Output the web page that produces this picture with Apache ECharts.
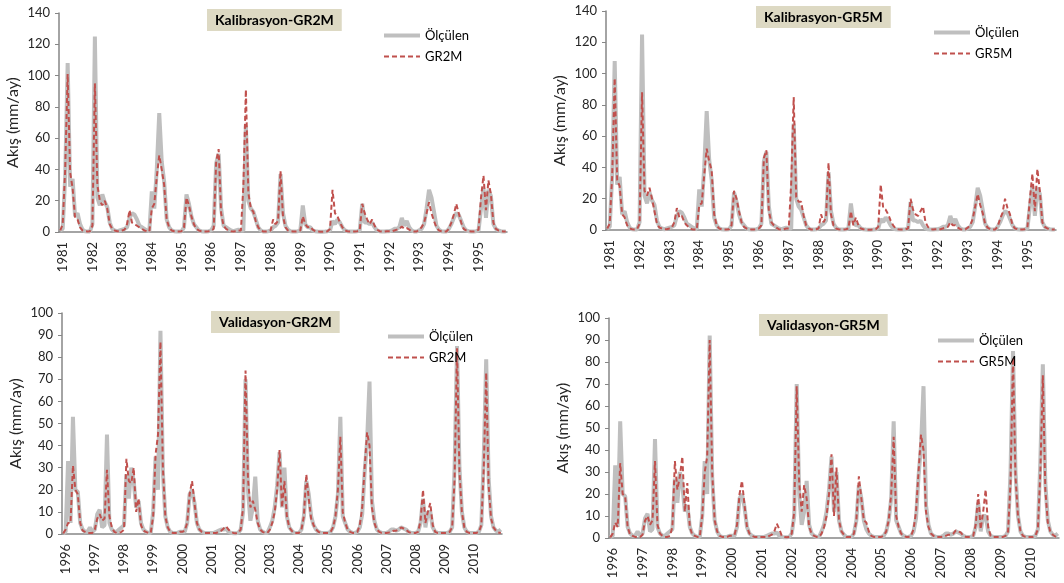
<!DOCTYPE html>
<html>
<head>
<meta charset="utf-8">
<script src="https://cdn.jsdelivr.net/npm/echarts@6/dist/echarts.min.js"></script>
<style>
html,body{margin:0;padding:0;background:#fff;}
#c{width:1064px;height:583px;}
</style>
</head>
<body>
<div id="c"></div>
<script>
// ---- Data ----
const calYears = [1981,1982,1983,1984,1985,1986,1987,1988,1989,1990,1991,1992,1993,1994,1995];
const valYears = [1996,1997,1998,1999,2000,2001,2002,2003,2004,2005,2006,2007,2008,2009,2010];
const monthCodes = ['01','02','03','04','05','06','07','08','09','10','11','12'];

// Observed flow, calibration period (mm/month). First value = Dec of previous year, then Jan..Dec per line
const calObs = [
  1,
  2, 35, 108, 29, 34, 10, 12, 5, 1.5, 0.5, 0.3, 0.3,
  5, 125, 22, 17, 24, 19, 16, 6, 2, 1, 0.5, 1,
  1.5, 2, 3, 9, 12, 11, 8, 4, 3, 2, 1, 0.5,
  26, 15, 40, 76, 45, 32, 8, 3, 1, 0.5, 0.3, 0.3,
  0.5, 3, 24, 18, 10, 5, 3, 1, 0.5, 0.3, 0.3, 0.5,
  1, 4, 44, 50, 15, 4, 3, 2, 1, 0.5, 1, 1.5,
  1, 1, 68, 20, 15, 13, 8, 3, 1, 0.3, 0.3, 0.5,
  1, 3, 4, 6, 37, 12, 4, 1.5, 0.5, 0.3, 0.3, 0.5,
  1, 17, 5, 3, 3, 1, 0.5, 0.3, 0.2, 0.2, 0.3, 0.5,
  1, 7, 5, 8, 6, 3, 1, 0.5, 0.3, 0.3, 0.3, 0.5,
  1, 18, 6, 6, 5, 6, 3, 1, 0.5, 0.3, 0.3, 0.5,
  0.5, 1, 2, 2, 3, 9, 4, 7, 3, 1, 0.3, 0.3,
  1, 2, 5, 15, 27, 22, 13, 4, 1.5, 0.5, 0.3, 0.3,
  2, 5, 9, 12, 11, 7, 3, 1, 0.5, 0.3, 0.3, 0.5,
  1, 15, 28, 9, 27, 23, 5, 2, 1, 0.5, 0.3, 0.3
];
// GR2M simulated flow, calibration
const calGR2M = [
  1,
  5, 40, 101, 38, 28, 9, 8, 3, 1, 0.5, 0.3, 0.5,
  4, 95, 30, 20, 17, 20, 15, 5, 2, 1, 0.5, 0.5,
  1, 1.5, 5, 14, 6, 5, 4, 3, 2, 1, 0.5, 0.3,
  15, 18, 35, 49, 40, 30, 8, 3, 1, 0.5, 0.3, 0.3,
  0.5, 3, 22, 17, 10, 5, 2, 1, 0.5, 0.3, 0.3, 0.5,
  1, 2, 45, 53, 12, 4, 2, 1, 0.5, 0.3, 0.5, 1,
  1, 30, 91, 25, 15, 13, 7, 3, 1, 0.3, 0.3, 0.5,
  1, 8, 5, 7, 39, 10, 3, 1, 0.5, 0.3, 0.3, 0.5,
  1, 10, 5, 3, 3.5, 1.5, 0.5, 0.3, 0.2, 0.2, 0.3, 0.5,
  2, 27, 12, 10, 6, 3, 1, 0.5, 0.3, 0.3, 0.3, 0.5,
  1, 18, 12, 8, 5, 8, 4, 1.5, 0.5, 0.3, 0.3, 0.5,
  0.5, 0.5, 1, 1.5, 2, 3.5, 2, 2.5, 1.5, 0.5, 0.3, 0.3,
  1.5, 3, 6, 12, 19, 12, 7, 3, 1, 0.5, 0.3, 0.3,
  2, 6, 11, 18, 12, 6, 2, 1, 0.5, 0.3, 0.3, 0.5,
  1.5, 22, 36, 14, 33, 24, 6, 2, 1, 0.5, 0.3, 0.3
];
// GR5M simulated flow, calibration
const calGR5M = [
  1,
  4, 35, 97, 32, 28, 10, 8, 3, 1, 0.5, 0.3, 0.5,
  4, 88, 25, 22, 27, 20, 12, 4, 1.5, 1, 0.5, 0.5,
  1, 1.5, 5, 14, 8, 9, 5, 3, 1.5, 0.5, 0.3, 0.3,
  16, 17, 35, 52, 44, 38, 10, 3, 1, 0.5, 0.3, 0.3,
  0.5, 3, 25, 20, 12, 5, 2, 1, 0.5, 0.3, 0.3, 0.5,
  1, 3, 46, 51, 12, 5, 3, 1.5, 0.5, 0.3, 0.5, 1,
  1, 30, 85, 21, 18, 18, 9, 3, 1, 0.3, 0.3, 0.5,
  1, 10, 5, 8, 43, 10, 3, 1, 0.5, 0.3, 0.3, 0.5,
  1, 12, 3, 8, 3, 1, 0.5, 0.3, 0.2, 0.2, 0.3, 0.5,
  2, 29, 14, 13, 10, 6, 3, 1, 0.5, 0.3, 0.3, 0.5,
  1, 20, 13, 10, 9, 12, 15, 5, 2, 0.5, 0.3, 0.5,
  0.5, 0.5, 1, 1.5, 2, 5, 3, 3, 1.5, 0.5, 0.3, 0.3,
  1.5, 3, 7, 15, 23, 16, 11, 4, 1.5, 0.5, 0.3, 0.3,
  2, 7, 11, 20, 14, 10, 3, 1, 0.5, 0.3, 0.3, 0.5,
  1.5, 20, 36, 12, 39, 25, 5, 2, 1, 0.5, 0.3, 0.3
];
// Observed flow, validation period
const valObs = [
  0.3,
  1, 33, 5, 53, 20, 19, 5, 2, 1, 1, 3, 1,
  2, 9, 11, 3, 4, 45, 5, 2, 1, 1, 2, 3,
  4, 27, 16, 30, 24, 12, 15, 5, 2, 1, 0.5, 0.5,
  10, 35, 20, 92, 28, 8, 3, 1, 0.5, 0.5, 0.5, 1,
  1, 1, 5, 18, 20, 14, 5, 2, 1, 0.5, 0.5, 0.5,
  0.5, 0.5, 1, 1.5, 2, 2, 2.5, 1, 0.5, 0.3, 0.3, 0.5,
  2, 10, 70, 20, 6, 12, 26, 6, 2, 1, 0.5, 0.5,
  3, 6, 12, 22, 37, 12, 30, 8, 3, 1.5, 0.5, 0.5,
  0.5, 2, 8, 24, 18, 8, 4, 2, 1, 0.5, 0.5, 0.5,
  0.5, 1, 3, 8, 18, 53, 8, 5, 2, 1, 0.5, 0.5,
  1, 3, 9, 28, 42, 69, 15, 6, 2, 1, 0.5, 0.5,
  0.5, 1, 2, 2, 1.5, 2, 3, 2.5, 2, 1, 0.5, 0.5,
  0.5, 1, 5, 16, 3, 10, 10, 3, 1, 0.5, 0.5, 0.5,
  0.5, 0.5, 1, 3, 30, 85, 30, 10, 3, 1, 0.5, 0.5,
  0.5, 0.5, 1, 4, 35, 79, 25, 8, 3, 1.5, 1, 2
];
// GR2M simulated flow, validation
const valGR2M = [
  0.3,
  2, 5, 5, 31, 20, 18, 5, 1.5, 1, 0.5, 0.5, 0.5,
  2, 7, 9, 6, 7, 29, 8, 3, 1, 0.5, 0.5, 1,
  2, 34, 24, 23, 30, 10, 16, 4, 1.5, 1, 0.5, 0.5,
  8, 36, 45, 87, 30, 8, 3, 1, 0.5, 0.5, 0.5, 1,
  1, 1.5, 5, 18, 24, 14, 5, 2, 1, 0.5, 0.5, 0.5,
  0.5, 0.5, 0.5, 1, 1.5, 2.5, 3.5, 2, 1, 0.5, 0.3, 0.5,
  2, 12, 74, 25, 12, 15, 11, 5, 2, 1, 0.5, 0.5,
  2, 5, 10, 20, 38, 12, 24, 8, 3, 1.5, 0.5, 0.5,
  0.5, 2, 8, 27, 16, 7, 4, 2, 1, 0.5, 0.5, 0.5,
  0.5, 1, 3, 8, 20, 44, 10, 5, 2, 1, 0.5, 0.5,
  1, 4, 12, 30, 46, 40, 12, 5, 2, 1, 0.5, 0.5,
  0.5, 0.7, 1, 1.5, 1.5, 2, 3, 2.5, 2, 1, 0.5, 0.5,
  0.5, 1, 6, 20, 5, 10, 14, 4, 1, 0.5, 0.5, 0.5,
  0.5, 0.5, 1, 3, 25, 84, 28, 10, 3, 1, 0.5, 0.5,
  0.5, 0.5, 1, 4, 30, 73, 22, 7, 3, 1.5, 0.7, 0.5
];
// GR5M simulated flow, validation
const valGR5M = [
  0.3,
  2, 7, 5, 34, 20, 19, 5, 1.5, 1, 0.5, 0.5, 0.5,
  1.5, 8, 10, 6, 8, 35, 6, 2, 1, 0.5, 0.5, 1,
  5, 35, 22, 28, 37, 12, 25, 5, 1.5, 1, 0.5, 0.5,
  10, 30, 37, 90, 30, 8, 3, 1, 0.5, 0.5, 0.5, 1,
  1, 1.5, 6, 20, 26, 15, 5, 2, 1, 0.5, 0.5, 0.5,
  0.5, 0.5, 0.5, 1, 1.5, 3, 6.5, 4, 1, 0.5, 0.3, 0.5,
  2, 12, 69, 25, 12, 24, 18, 5, 2, 1, 0.5, 0.5,
  2, 5, 10, 20, 38, 10, 32, 8, 3, 1.5, 0.5, 0.5,
  0.5, 2, 8, 28, 18, 8, 7, 3, 1, 0.5, 0.5, 0.5,
  0.5, 1, 3, 8, 20, 46, 10, 5, 2, 1, 0.5, 0.5,
  1, 4, 12, 30, 47, 40, 12, 5, 2, 1, 0.5, 0.5,
  0.5, 0.7, 1, 1.5, 1.5, 2, 3.5, 3, 2.5, 1, 0.5, 0.5,
  0.5, 1, 6, 20, 4, 12, 22, 5, 1, 0.5, 0.5, 0.5,
  0.5, 0.5, 1, 3, 25, 82, 28, 10, 3, 1, 0.5, 0.5,
  0.5, 0.5, 1, 4, 30, 74, 22, 7, 3, 1.5, 0.7, 0.5
];

const titles = ['Kalibrasyon-GR2M','Kalibrasyon-GR5M','Validasyon-GR2M','Validasyon-GR5M'];
const obsName = 'Ölçülen';
const yName = 'Akış (mm/ay)';

// ---- Build ----
const makeCats = years => [(years[0] - 1) + '-12'].concat(years.flatMap(y => monthCodes.map(m => y + '-' + m)));
const calCats = makeCats(calYears);
const valCats = makeCats(valYears);

const FONT = 'Lato, "Open Sans", "Liberation Sans", sans-serif';
const axisColor = '#868686';
const textColor = '#262626';
const obsColor = '#bfbfbf';
const simColor = '#c0504d';

const obsIcon = 'path://M0,0H36V4H0Z';
const simIcon = 'path://M0,0H5V2H0Z M8,0H13V2H8Z M16,0H21V2H16Z M24,0H29V2H24Z M32,0H36V2H32Z';

const panels = [
  {grid:{left:59, top:13, width:448, height:219}, cats:calCats, obs:calObs, sim:calGR2M, simName:'GR2M', max:140, interval:20,
   title:{left:207, top:9}, legend:{left:379, top:24}},
  {grid:{left:606, top:11, width:450, height:219}, cats:calCats, obs:calObs, sim:calGR5M, simName:'GR5M', max:140, interval:20,
   title:{left:756, top:6}, legend:{left:929, top:21}},
  {grid:{left:62, top:313, width:440, height:221}, cats:valCats, obs:valObs, sim:valGR2M, simName:'GR2M', max:100, interval:10,
   title:{left:211, top:311}, legend:{left:383, top:325}},
  {grid:{left:609, top:318, width:450, height:220}, cats:valCats, obs:valObs, sim:valGR5M, simName:'GR5M', max:100, interval:10,
   title:{left:759, top:314}, legend:{left:933, top:329}}
];

const option = {
  backgroundColor:'#ffffff',
  animation:false,
  title:[], legend:[], grid:[], xAxis:[], yAxis:[], series:[]
};

const isJan = (idx, val) => val.slice(5) === '01';

panels.forEach((p, i) => {
  option.grid.push(Object.assign({containLabel:false}, p.grid));
  option.title.push({
    text: titles[i], left: p.title.left, top: p.title.top,
    backgroundColor:'#ddd9c3', padding:[4,8,4,8],
    textStyle:{fontFamily:FONT, fontSize:14, fontWeight:'bold', color:'#000'}
  });
  option.legend.push({
    left:p.legend.left, top:p.legend.top, orient:'vertical', itemGap:8,
    itemWidth:36, itemHeight:14,
    data:[{name: obsName + i, icon: obsIcon}, {name: p.simName + i, icon: simIcon}],
    formatter: n => n.slice(0, -1),
    textStyle:{fontFamily:FONT, fontSize:13, color:'#000'}
  });
  option.xAxis.push({
    type:'category', gridIndex:i, data:p.cats, boundaryGap:true,
    axisLine:{lineStyle:{color:axisColor, width:1.5}},
    axisTick:{interval:0, length:5, lineStyle:{color:axisColor}},
    axisLabel:{interval:isJan, rotate:90, margin:10, color:textColor, fontFamily:FONT, fontSize:13,
      formatter: v => v.slice(0,4)},
    splitLine:{show:false}
  });
  option.yAxis.push({
    type:'value', gridIndex:i, min:0, max:p.max, interval:p.interval,
    name:yName, nameLocation:'middle', nameGap:38, nameRotate:90,
    nameTextStyle:{fontFamily:FONT, fontSize:16, color:textColor},
    axisLine:{show:true, lineStyle:{color:axisColor, width:1.5}},
    axisTick:{show:true, length:4, lineStyle:{color:axisColor}},
    axisLabel:{color:textColor, fontFamily:FONT, fontSize:13, margin:9},
    splitLine:{show:false}
  });
  option.series.push({
    name: obsName + i, type:'line', xAxisIndex:i, yAxisIndex:i, data:p.obs,
    showSymbol:false, symbol:'none', lineStyle:{color:obsColor, width:4}, itemStyle:{color:obsColor}, z:2
  });
  option.series.push({
    name: p.simName + i, type:'line', xAxisIndex:i, yAxisIndex:i, data:p.sim,
    showSymbol:false, symbol:'none', lineStyle:{color:simColor, width:2, type:[5,3]}, itemStyle:{color:simColor}, z:3
  });
});

const chart = echarts.init(document.getElementById('c'), null, {renderer:'canvas'});
chart.setOption(option);
</script>
</body>
</html>
